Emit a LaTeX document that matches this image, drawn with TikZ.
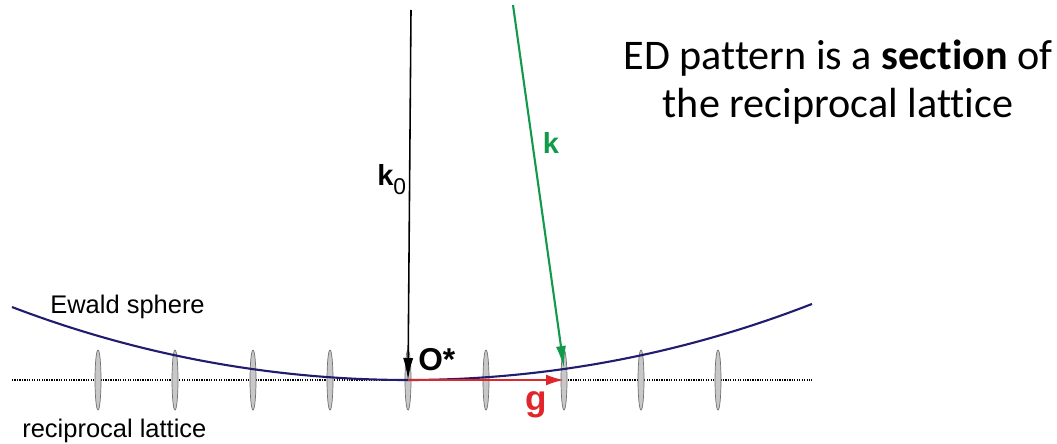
\documentclass[tikz,border=0pt]{standalone}
\usepackage{fontspec}
\setmainfont{Liberation Sans}
\newfontfamily\calibri[Ligatures=NoCommon]{Carlito}
\usetikzlibrary{arrows.meta,positioning,shapes.geometric}
\definecolor{ewald}{HTML}{221C6E}
\definecolor{kgreen}{HTML}{12994A}
\definecolor{gred}{HTML}{E0262A}
\definecolor{spotfill}{HTML}{C8C8C8}
\definecolor{spotline}{HTML}{707070}
\newcommand{\fsize}[1]{\fontsize{#1}{#1}\selectfont}

\begin{document}
\begin{tikzpicture}[x=0.02cm,y=-0.02cm,
      spot/.style={ellipse,draw=spotline,fill=spotfill,line width=0.4pt,inner sep=0pt,minimum width=0.12cm,minimum height=1.2cm},
      vec/.style={-{Latex[length=0.44cm,width=0.2cm]},line width=0.9pt},
      lbl/.style={font=\fsize{14.5}},
      bold/.style={font=\bfseries\fsize{16.5}}]
      \useasboundingbox (0,0) rectangle (1057,443);
      % reciprocal lattice row
      \draw[line width=0.9pt,dash pattern=on 0.7pt off 0.7pt] (12,380) -- (812,380);
      \foreach \i/\x in {1/98,2/175,3/253,4/330,5/408,6/486,7/564,8/641,9/718}
        \node[spot] (s\i) at (\x,380) {};
      % Ewald sphere, radius 1111 around (408,-731)
      \draw[ewald,line width=1.2pt] plot[domain=-396:404,samples=90]
        ({408+\x},{380-100*(11.11-sqrt(11.11*11.11-(\x/100)*(\x/100)))});
      % wave vectors
      \coordinate (O) at (408,380);
      \coordinate (k0top) at (411,10);
      \coordinate (ktop) at (513,5);
      \coordinate (kend) at (564,368);
      \draw[vec] (k0top) -- (O);
      \draw[vec,kgreen,line width=1.2pt] (ktop) -- (kend);
      \draw[vec,gred,line width=1.2pt,-{Latex[length=0.36cm,width=0.22cm]}] (O) -- (s7.center);
      % labels
      \node[bold,anchor=base west,inner sep=0pt] (k0lab) at (377,185) {k\raisebox{-0.6ex}{\mdseries\fsize{13}0}};
      \node[bold,text=kgreen,anchor=base,inner sep=0pt] (klab) at (551,153) {k};
      \node[font=\bfseries\fsize{18},anchor=base west,inner sep=0pt] (olab) at (418,370) {O*};
      \node[font=\bfseries\fsize{20},text=gred,anchor=base,inner sep=0pt] (glab) at (536,410) {g};
      \node[lbl,anchor=base west,inner sep=0pt] (ewlab) at (50,313) {Ewald sphere};
      \node[lbl,anchor=base west,inner sep=0pt] (rllab) at (22,437) {reciprocal lattice};
      \node[font=\calibri\fontsize{24}{27}\selectfont,align=center,anchor=base,inner sep=0pt] (note) at (838,117)
        {ED pattern is a \textbf{section} of\\the reciprocal lattice};
    \end{tikzpicture}
\end{document}
